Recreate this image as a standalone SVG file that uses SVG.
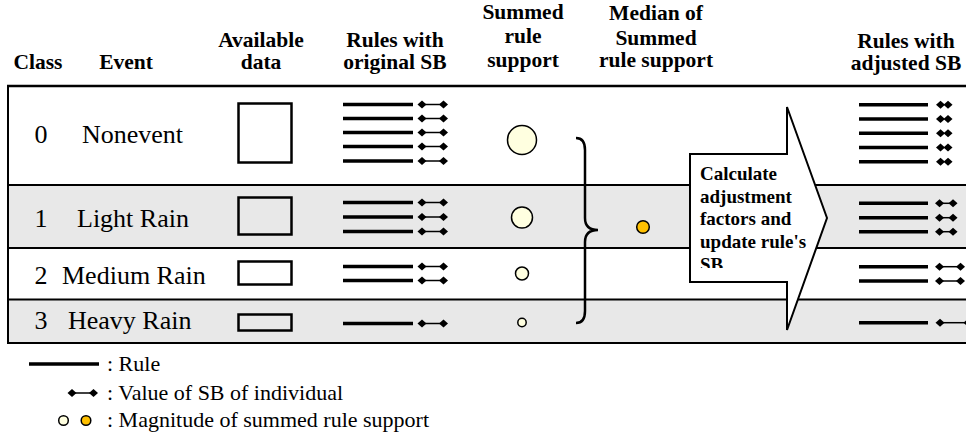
<svg xmlns="http://www.w3.org/2000/svg" width="966" height="434" viewBox="0 0 966 434">
<style>
.hd{font-family:"Liberation Serif","Times New Roman",serif;font-weight:bold;font-size:21.5px;fill:#000;text-anchor:middle}
.lb{font-family:"Liberation Serif","Times New Roman",serif;font-size:26px;fill:#000}
.lg{font-family:"Liberation Serif","Times New Roman",serif;font-size:22px;fill:#000}
.ar{font-family:"Liberation Serif","Times New Roman",serif;font-weight:bold;font-size:19px;fill:#000}
.rl{stroke:#000;stroke-width:3.5;fill:none}
.sl{stroke:#000;stroke-width:1.5;fill:none}
.tl{stroke:#000;stroke-width:2;fill:none}
.dm{fill:#000}
.cs{fill:#FFFFE0;stroke:#000;stroke-width:1.5}
.cm{fill:#FFC000;stroke:#000;stroke-width:1.5}
.box{fill:none;stroke:#000;stroke-width:2.5}
</style>
<defs>
<path id="d" d="M-4.5,0 L0,-4 L4.5,0 L0,4 Z"/>
<clipPath id="clipArrow"><rect x="692" y="156" width="125" height="112"/></clipPath>
</defs>

<g id="table">
<rect x="8" y="86" width="960" height="99" fill="#fff"/>
<rect x="8" y="185" width="960" height="63" fill="#e8e8e8"/>
<rect x="8" y="248" width="960" height="51" fill="#fff"/>
<rect x="8" y="299" width="960" height="44" fill="#e8e8e8"/>
<line x1="7" y1="86" x2="966" y2="86" stroke="#000" stroke-width="2.5"/>
<line x1="8" y1="185" x2="966" y2="185" class="tl"/>
<line x1="8" y1="248" x2="966" y2="248" class="tl"/>
<line x1="8" y1="299.5" x2="966" y2="299.5" class="tl"/>
<line x1="8" y1="343" x2="966" y2="343" class="tl"/>
<line x1="8" y1="85" x2="8" y2="344" class="tl"/>
</g>

<g id="headers">
<text class="hd" x="38" y="69">Class</text>
<text class="hd" x="126" y="69">Event</text>
<text class="hd" x="261" y="47">Available</text>
<text class="hd" x="261" y="69">data</text>
<text class="hd" x="395" y="47">Rules with</text>
<text class="hd" x="395" y="69">original SB</text>
<text class="hd" x="523" y="19">Summed</text>
<text class="hd" x="523" y="43">rule</text>
<text class="hd" x="523" y="67">support</text>
<text class="hd" x="656" y="20">Median of</text>
<text class="hd" x="656" y="45">Summed</text>
<text class="hd" x="656" y="67">rule support</text>
<text class="hd" x="906" y="48">Rules with</text>
<text class="hd" x="906" y="70">adjusted SB</text>
</g>

<g id="row0">
<text class="lb" x="41" y="143" text-anchor="middle">0</text>
<text class="lb" x="82" y="143">Nonevent</text>
<rect class="box" x="238.5" y="103.5" width="53" height="59" fill="#fff"/>
</g>
<g id="row1">
<text class="lb" x="41" y="226.5" text-anchor="middle">1</text>
<text class="lb" x="77" y="226.5">Light Rain</text>
<rect class="box" x="238.5" y="197.5" width="53" height="37"/>
</g>
<g id="row2">
<text class="lb" x="41" y="284" text-anchor="middle">2</text>
<text class="lb" x="62" y="284">Medium Rain</text>
<rect class="box" x="238.5" y="261.5" width="53" height="23" fill="#fff"/>
</g>
<g id="row3">
<text class="lb" x="41" y="329" text-anchor="middle">3</text>
<text class="lb" x="68" y="329">Heavy Rain</text>
<rect class="box" x="238.5" y="314.5" width="53" height="16" fill="#e8e8e8"/>
</g>

<g id="original-rules">
<g class="rl">
<line x1="343" y1="104.5" x2="413" y2="104.5"/>
<line x1="343" y1="118.5" x2="413" y2="118.5"/>
<line x1="343" y1="132.5" x2="413" y2="132.5"/>
<line x1="343" y1="146.5" x2="413" y2="146.5"/>
<line x1="343" y1="161" x2="413" y2="161"/>
<line x1="343" y1="202.5" x2="413" y2="202.5"/>
<line x1="343" y1="217" x2="413" y2="217"/>
<line x1="343" y1="231.5" x2="413" y2="231.5"/>
<line x1="343" y1="266.5" x2="413" y2="266.5"/>
<line x1="343" y1="280.5" x2="413" y2="280.5"/>
<line x1="343" y1="323.5" x2="413" y2="323.5"/>
</g>
<g class="sl">
<line x1="422" y1="104.5" x2="443.5" y2="104.5"/>
<line x1="422" y1="118.5" x2="443.5" y2="118.5"/>
<line x1="422" y1="132.5" x2="443.5" y2="132.5"/>
<line x1="422" y1="146.5" x2="443.5" y2="146.5"/>
<line x1="422" y1="161" x2="443.5" y2="161"/>
<line x1="422" y1="202.5" x2="443.5" y2="202.5"/>
<line x1="422" y1="217" x2="443.5" y2="217"/>
<line x1="422" y1="231.5" x2="443.5" y2="231.5"/>
<line x1="422" y1="266.5" x2="443.5" y2="266.5"/>
<line x1="422" y1="280.5" x2="443.5" y2="280.5"/>
<line x1="422" y1="323.5" x2="443.5" y2="323.5"/>
</g>
<g class="dm">
<use href="#d" x="422" y="104.5"/><use href="#d" x="443.5" y="104.5"/>
<use href="#d" x="422" y="118.5"/><use href="#d" x="443.5" y="118.5"/>
<use href="#d" x="422" y="132.5"/><use href="#d" x="443.5" y="132.5"/>
<use href="#d" x="422" y="146.5"/><use href="#d" x="443.5" y="146.5"/>
<use href="#d" x="422" y="161"/><use href="#d" x="443.5" y="161"/>
<use href="#d" x="422" y="202.5"/><use href="#d" x="443.5" y="202.5"/>
<use href="#d" x="422" y="217"/><use href="#d" x="443.5" y="217"/>
<use href="#d" x="422" y="231.5"/><use href="#d" x="443.5" y="231.5"/>
<use href="#d" x="422" y="266.5"/><use href="#d" x="443.5" y="266.5"/>
<use href="#d" x="422" y="280.5"/><use href="#d" x="443.5" y="280.5"/>
<use href="#d" x="422" y="323.5"/><use href="#d" x="443.5" y="323.5"/>
</g>
</g>

<g id="summed-support">
<circle class="cs" cx="522" cy="140" r="14.5"/>
<circle class="cs" cx="522" cy="217.5" r="10.5"/>
<circle class="cs" cx="522" cy="273.5" r="6.5"/>
<circle class="cs" cx="522" cy="322.5" r="4.2"/>
</g>

<g id="connectors">
<path d="M576,138 Q585,138 585,150 L585,218 Q585,230 598,230 Q585,230 585,242 L585,311 Q585,323 576,323" fill="none" stroke="#000" stroke-width="2.5"/>
</g>

<g id="median">
<circle class="cm" cx="643" cy="227" r="6.3"/>
</g>

<g id="arrow">
<path d="M690,154 L787,154 L787,107 L827,218 L787,330 L787,282 L690,282 Z" fill="#fff" stroke="#000" stroke-width="2"/>
<g clip-path="url(#clipArrow)">
<text class="ar" x="700" y="180">Calculate</text>
<text class="ar" x="700" y="202.5">adjustment</text>
<text class="ar" x="700" y="225">factors and</text>
<text class="ar" x="700" y="248">update rule's</text>
<text class="ar" x="700" y="271">SB</text>
</g>
</g>

<g id="adjusted-rules">
<g class="rl">
<line x1="859" y1="104.7" x2="928" y2="104.7"/>
<line x1="859" y1="119" x2="928" y2="119"/>
<line x1="859" y1="133.3" x2="928" y2="133.3"/>
<line x1="859" y1="147.5" x2="928" y2="147.5"/>
<line x1="859" y1="161.7" x2="928" y2="161.7"/>
<line x1="859" y1="203.3" x2="928" y2="203.3"/>
<line x1="859" y1="217.7" x2="928" y2="217.7"/>
<line x1="859" y1="231.7" x2="928" y2="231.7"/>
<line x1="859" y1="266.7" x2="928" y2="266.7"/>
<line x1="859" y1="281" x2="928" y2="281"/>
<line x1="859" y1="322.7" x2="928" y2="322.7"/>
</g>
<g class="sl">
<line x1="939.5" y1="203.3" x2="953" y2="203.3"/>
<line x1="939.5" y1="217.7" x2="953" y2="217.7"/>
<line x1="939.5" y1="231.7" x2="953" y2="231.7"/>
<line x1="939.5" y1="266.7" x2="960.5" y2="266.7"/>
<line x1="939.5" y1="281" x2="960.5" y2="281"/>
<line x1="940" y1="322.7" x2="970" y2="322.7"/>
</g>
<g class="dm">
<use href="#d" x="940.5" y="104.7"/><use href="#d" x="948" y="104.7"/>
<use href="#d" x="940.5" y="119"/><use href="#d" x="948" y="119"/>
<use href="#d" x="940.5" y="133.3"/><use href="#d" x="948" y="133.3"/>
<use href="#d" x="940.5" y="147.5"/><use href="#d" x="948" y="147.5"/>
<use href="#d" x="940.5" y="161.7"/><use href="#d" x="948" y="161.7"/>
<use href="#d" x="939.5" y="203.3"/><use href="#d" x="953" y="203.3"/>
<use href="#d" x="939.5" y="217.7"/><use href="#d" x="953" y="217.7"/>
<use href="#d" x="939.5" y="231.7"/><use href="#d" x="953" y="231.7"/>
<use href="#d" x="939.5" y="266.7"/><use href="#d" x="960.5" y="266.7"/>
<use href="#d" x="939.5" y="281"/><use href="#d" x="960.5" y="281"/>
<use href="#d" x="940" y="322.7"/><use href="#d" x="968" y="322.7"/>
</g>
</g>

<g id="legend">
<line x1="29" y1="364" x2="99" y2="364" class="rl"/>
<text class="lg" x="107" y="370.5">: Rule</text>
<line x1="72" y1="393" x2="93.5" y2="393" class="sl"/>
<use href="#d" x="72" y="393"/><use href="#d" x="93.5" y="393"/>
<text class="lg" x="107" y="400">: Value of SB of individual</text>
<circle class="cs" cx="63.5" cy="420.5" r="4.8"/>
<circle class="cm" cx="86" cy="420.5" r="4.8"/>
<text class="lg" x="107" y="427">: Magnitude of summed rule support</text>
</g>
</svg>
